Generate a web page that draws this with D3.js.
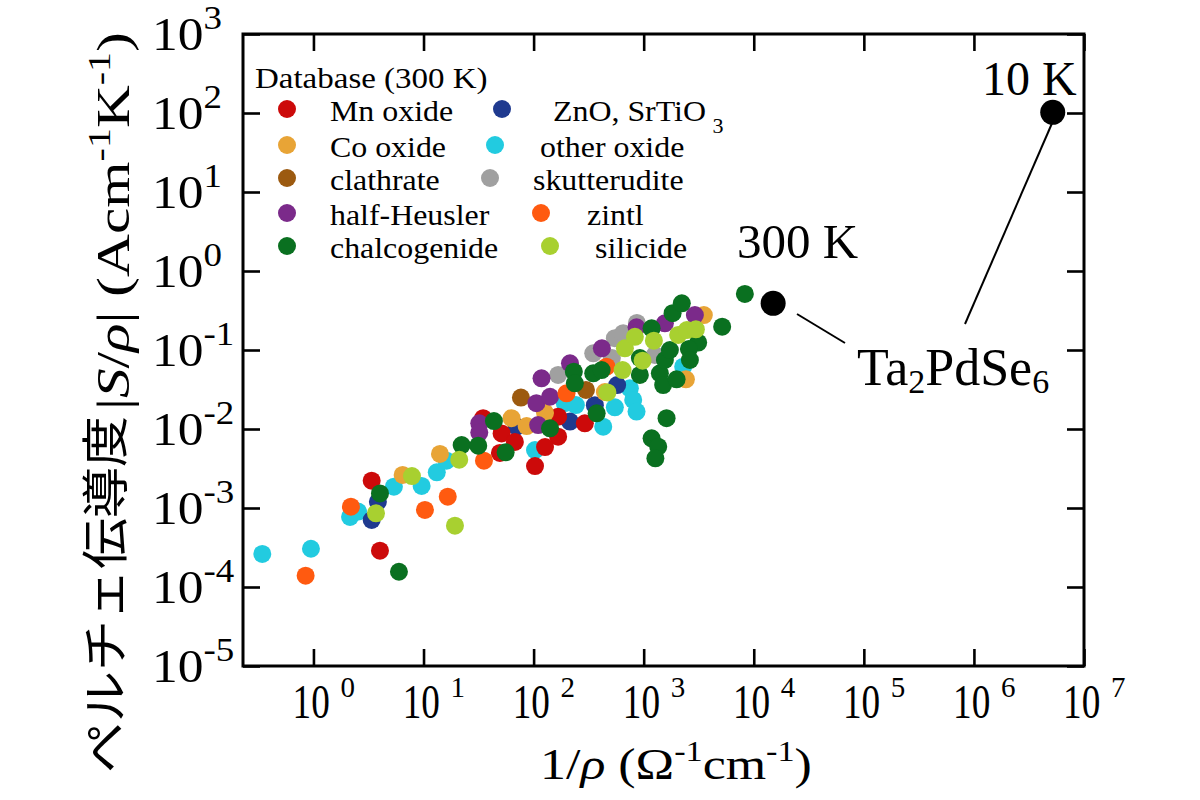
<!DOCTYPE html>
<html><head><meta charset="utf-8">
<script src="https://cdn.jsdelivr.net/npm/d3@7"></script>
<style>body{margin:0;background:#fff}svg{display:block}</style>
</head><body>
<svg id="chart" width="1200" height="800"></svg>
<script>
// ---------------- data ----------------
const categories = ["Mn oxide","ZnO, SrTiO","Co oxide","other oxide","clathrate","skutterudite","half-Heusler","zintl","chalcogenide","silicide"];
const colors = ["#cc0a0a","#1f3a8f","#e8a436","#22cbe0","#9c5a10","#a0a0a0","#7b2a8a","#ff5a10","#0a7020","#a8d030"];

const mnOxide = [[3.38,2.22e-3],[4.02,2.88e-4],[34.8,1.37e-2],[51.2,8.8e-3],[49.4,4.97e-3],[67.6,6.85e-3],[103,3.4e-3],[167,1.43e-2],[167,8.0e-3],[292,1.18e-2],[127,5.9e-3]];
const znoSrtio3 = [[3.38,7.05e-4],[3.85,1.2e-3],[70.1,1.07e-2],[214,1.24e-2],[360,2.0e-2],[574,3.6e-2]];
const coOxide = [[6.46,2.62e-3],[14.1,4.83e-3],[63.1,1.37e-2],[86.4,1.09e-2],[3520,0.277],[2420,4.26e-2],[444,2.94e-2],[127,1.6e-2]];
const otherOxide = [[0.343,2.62e-4],[0.949,3.05e-4],[2.15,7.7e-4],[2.54,9.0e-4],[5.38,1.86e-3],[9.61,1.9e-3],[13.2,2.83e-3],[16.2,3.97e-3],[103,5.42e-3],[192,2.12e-2],[242,2.01e-2],[429,1.07e-2],[547,1.88e-2],[749,3.27e-2],[803,2.33e-2],[861,1.66e-2],[2285,6.15e-2]];
const clathrate = [[76.7,2.5e-2],[299,3.12e-2]];
const skutterudite = [[167,4.83e-2],[348,9.08e-2],[547,0.141],[651,0.163],[867,0.22],[1264,8.65e-2],[514,7.9e-2]];
const halfHeusler = [[32.1,1.18e-2],[32.1,9.0e-3],[106,2.12e-2],[110,1.12e-2],[118,4.38e-2],[141,2.56e-2],[214,6.79e-2],[417,0.105],[861,0.194],[1558,0.218],[2917,0.277]];
const zintl = [[0.849,1.39e-4],[2.19,1.04e-3],[10.3,9.44e-4],[16.6,1.39e-3],[35.4,3.97e-3],[199,2.83e-2],[460,6.15e-2]];
const chalcogenide = [[4.02,1.53e-3],[5.98,1.56e-4],[22.2,6.27e-3],[31.4,6.15e-3],[43.6,1.26e-2],[55.7,5.07e-3],[141,1.02e-2],[232,5.31e-2],[237,3.79e-2],[348,5.07e-2],[415,5.58e-2],[374,1.58e-2],[923,4.83e-2],[1180,0.188],[1403,5.07e-2],[1503,3.6e-2],[1558,7.47e-2],[1730,0.1],[1990,4.26e-2],[1830,0.292],[2220,0.39],[3126,0.124],[5163,0.197],[8300,0.512],[1614,1.37e-2],[1180,7.62e-3],[1355,5.97e-3],[1277,4.26e-3],[2575,0.103],[2630,7.47e-2],[923,7.92e-2]];
const silicide = [[3.70,8.57e-4],[7.85,2.54e-3],[19.3,5.97e-4],[21.1,4.09e-3],[468,2.9e-2],[643,5.58e-2],[675,0.105],[832,0.147],[977,7.32e-2],[1238,0.131],[2057,0.155],[2467,0.179],[2980,0.183]];
const seriesData = [mnOxide, znoSrtio3, coOxide, otherOxide, clathrate, skutterudite, halfHeusler, zintl, chalcogenide, silicide];

const ta2pdse6 = [{label:"300 K", x:1.5e4, y:0.39},{label:"10 K", x:5.2e6, y:102}];

const xTicks = [1,1e1,1e2,1e3,1e4,1e5,1e6,1e7];
const xTickExp = ["0","1","2","3","4","5","6","7"];
const yTicks = [1e-5,1e-4,1e-3,1e-2,1e-1,1,1e1,1e2,1e3];
const yTickExp = ["-5","-4","-3","-2","-1","0","1","2","3"];

// ---------------- layout ----------------
const svg = d3.select("#chart");
const L = 243, R = 1084, T = 34, B = 666;
const serif = "'Liberation Serif','Times New Roman',serif";
const cjk = "'Noto Sans CJK JP','Noto Sans CJK SC',sans-serif";

const x = d3.scaleLog().domain([Math.pow(10,-0.64), 1e7]).range([L, R]);
const y = d3.scaleLog().domain([1e-5, 1e3]).range([B, T]);

const drawOrder = [3,1,0,2,4,5,6,7,8,9];
const gPts = svg.append("g");
drawOrder.forEach(si => {
  gPts.selectAll(null).data(seriesData[si]).enter().append("circle")
    .attr("cx", d => x(d[0])).attr("cy", d => y(d[1])).attr("r", 9)
    .attr("fill", colors[si]);
});

// axes (inward ticks)
function styleAxis(g){ g.select(".domain").remove(); g.selectAll(".tick line").attr("stroke","#000").attr("stroke-width",2.6); }
svg.append("g").attr("transform",`translate(0,${B})`).call(d3.axisBottom(x).tickValues(xTicks).tickSize(-17).tickFormat("")).call(styleAxis);
svg.append("g").attr("transform",`translate(0,${T})`).call(d3.axisTop(x).tickValues(xTicks).tickSize(-17).tickFormat("")).call(styleAxis);
svg.append("g").attr("transform",`translate(${L},0)`).call(d3.axisLeft(y).tickValues(yTicks).tickSize(-17).tickFormat("")).call(styleAxis);
svg.append("g").attr("transform",`translate(${R},0)`).call(d3.axisRight(y).tickValues(yTicks).tickSize(-17).tickFormat("")).call(styleAxis);
svg.append("rect").attr("x",L).attr("y",T).attr("width",R-L).attr("height",B-T)
  .attr("fill","none").attr("stroke","#000").attr("stroke-width",3);

// x tick labels
xTicks.forEach((t,i) => {
  const g = svg.append("g").attr("transform",`translate(${x(t)},718)`);
  g.append("text").attr("transform","scale(0.76,1)").attr("x",-3).attr("text-anchor","middle")
    .attr("font-family",serif).attr("font-size",49).text("10");
  g.append("text").attr("x",27).attr("y",-21).attr("font-family",serif).attr("font-size",29)
    .text(xTickExp[i]);
});
// y tick labels
yTicks.forEach((t,i) => {
  const g = svg.append("g").attr("transform",`translate(152,${y(t)+16}) scale(1.12,1)`);
  const tx = g.append("text").attr("font-family",serif).attr("font-size",46).text("10");
  tx.append("tspan").attr("font-size",33).attr("dy",-21).text(yTickExp[i]);
});

// axis titles
function fit(textSel, target){ const w = textSel.node().getBBox().width; textSel.attr("transform",`scale(${target/w},1)`); }
{
  const g = svg.append("g").attr("transform","translate(540,779)");
  const t = g.append("text").attr("font-family",serif).attr("font-size",44);
  t.append("tspan").text("1/");
  t.append("tspan").attr("font-style","italic").text("ρ");
  t.append("tspan").text(" (Ω");
  t.append("tspan").attr("font-size",29).attr("dy",-18).text("-1");
  t.append("tspan").attr("dy",18).text("cm");
  t.append("tspan").attr("font-size",29).attr("dy",-18).text("-1");
  t.append("tspan").attr("dy",18).text(")");
  fit(t, 272);
}
{
  const g1 = svg.append("g").attr("transform","translate(122,773) rotate(-90)");
  const t1 = g1.append("text").attr("font-family",cjk).attr("font-size",47).text("ペルチェ伝導度");
  fit(t1, 357);
  const g2 = svg.append("g").attr("transform","translate(129,410) rotate(-90)");
  const t2 = g2.append("text").attr("font-family",serif).attr("font-size",46);
  t2.append("tspan").text("|");
  t2.append("tspan").attr("font-style","italic").text("S");
  t2.append("tspan").text("/");
  t2.append("tspan").attr("font-style","italic").text("ρ");
  t2.append("tspan").text("| (Acm");
  t2.append("tspan").attr("font-size",31).attr("dy",-19).text("-1");
  t2.append("tspan").attr("dy",19).text("K");
  t2.append("tspan").attr("font-size",31).attr("dy",-19).text("-1");
  t2.append("tspan").attr("dy",19).text(")");
  fit(t2, 378);
}

// legend
svg.append("text").attr("transform","translate(255,88) scale(1.1,1)").attr("font-family",serif)
  .attr("font-size",30).text("Database (300 K)");
const legendRows = [109,145,178,213,246];
const legendPos = [[287,330],[502,553],[287,330],[495,540],[287,330],[490,533],[287,330],[541,587],[287,330],[550,595]];
categories.forEach((c,i) => {
  const row = legendRows[Math.floor(i/2)];
  const [dx, tx] = legendPos[i];
  svg.append("circle").attr("cx",dx).attr("cy",row).attr("r",9).attr("fill",colors[i]);
  const t = svg.append("text").attr("transform",`translate(${tx},${row+12}) scale(1.1,1)`)
    .attr("font-family",serif).attr("font-size",29).text(c);
  if (i === 1) t.append("tspan").attr("font-size",20).attr("dx",6).attr("dy",12).text("3");
});

// Ta2PdSe6 points and annotations
svg.append("line").attr("x1",797).attr("y1",314).attr("x2",845).attr("y2",343).attr("stroke","#000").attr("stroke-width",2);
svg.append("line").attr("x1",1053).attr("y1",121).attr("x2",965).attr("y2",324).attr("stroke","#000").attr("stroke-width",2);
svg.selectAll(null).data(ta2pdse6).enter().append("circle")
  .attr("cx",d=>x(d.x)).attr("cy",d=>y(d.y)).attr("r",12.5).attr("fill","#000");
svg.append("text").attr("x",737).attr("y",258).attr("font-family",serif).attr("font-size",49).text(ta2pdse6[0].label);
svg.append("text").attr("x",982).attr("y",95).attr("font-family",serif).attr("font-size",48).text(ta2pdse6[1].label);
{
  const t = svg.append("text").attr("x",857).attr("y",385).attr("font-family",serif).attr("font-size",52);
  t.append("tspan").text("Ta");
  t.append("tspan").attr("font-size",34).attr("dy",8).text("2");
  t.append("tspan").attr("dy",-8).text("PdSe");
  t.append("tspan").attr("font-size",34).attr("dy",8).text("6");
}
</script>
</body></html>
